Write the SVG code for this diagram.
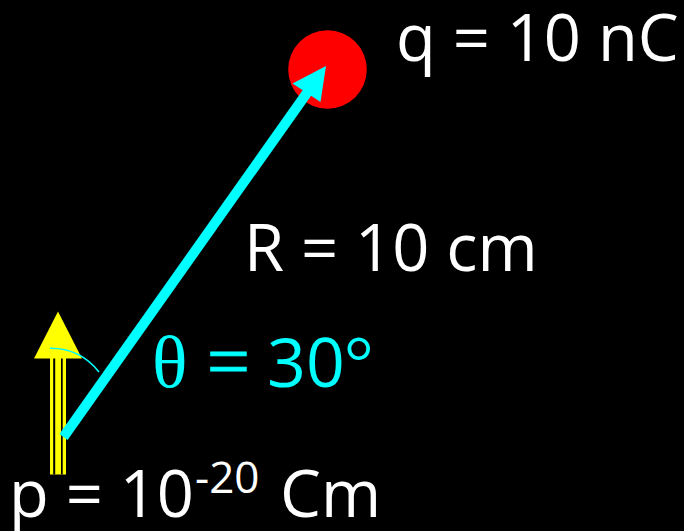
<svg xmlns="http://www.w3.org/2000/svg" width="684" height="531" viewBox="0 0 684 531">
<style>
.lbl{font-family:"Open Sans","Liberation Sans",sans-serif;fill:#ffffff;font-size:65px}
.sup{font-size:44px}
.cy{fill:#00ffff}
.ser{font-family:"Liberation Serif","DejaVu Serif",serif}
.sans{font-family:"Open Sans","Liberation Sans",sans-serif}
</style>
<rect width="684" height="531" fill="#000000"/>
<g id="charge">
<circle cx="327.5" cy="69.5" r="39.3" fill="#ff0000"/>
</g>
<g id="dipole">
<rect x="50" y="356" width="16" height="118.5" fill="#ffff00"/>
<rect x="53.2" y="356" width="2" height="118.5" fill="#000000"/>
<rect x="61" y="356" width="1.7" height="118.5" fill="#000000"/>
<polygon points="58,311.5 34,358.5 82,358.5" fill="#ffff00"/>
</g>
<g id="connectors">
<line x1="63.5" y1="437" x2="309" y2="90" stroke="#00ffff" stroke-width="10"/>
<polygon points="326,66 292.5,83.5 320.5,102" fill="#00ffff"/>
<path d="M50,348.3 Q80,348 99,372" fill="none" stroke="#00ffff" stroke-width="1.6"/>
</g>
<g id="labels">
<text class="lbl" x="396" y="61">q = 10 nC</text>
<text class="lbl" x="244" y="271">R = 10 cm</text>
<text class="cy" y="387"><tspan class="ser" x="152" font-size="74">θ</tspan><tspan class="ser" x="207" font-size="76" stroke="#00ffff" stroke-width="1">=</tspan><tspan class="sans" x="267" font-size="68">30</tspan><tspan class="ser" x="344" font-size="74">°</tspan></text>
<text class="lbl" x="9" y="517">p = 10</text>
<text class="lbl sup" x="195" y="493">-20</text>
<text class="lbl" x="280" y="517">Cm</text>
</g>
</svg>
